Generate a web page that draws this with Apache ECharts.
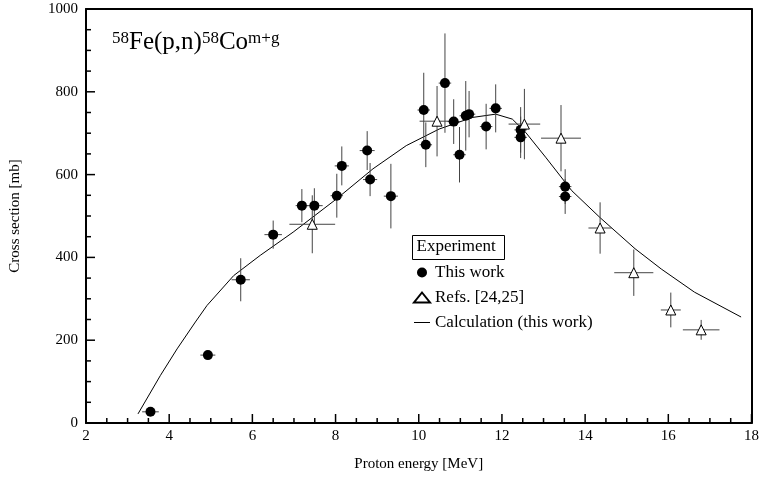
<!DOCTYPE html>
<html>
<head>
<meta charset="utf-8">
<script src="https://cdn.jsdelivr.net/npm/echarts@6/dist/echarts.min.js"></script>
<style>
html,body{margin:0;padding:0;background:#fff;}
#chart{width:762px;height:477px;}
</style>
</head>
<body>
<div id="chart"></div>
<script>
// ---- data ----
// This work: [energy MeV, cross section mb, energy error, cs error]
var thisWork = [
  [3.55, 27, 0.2, 6],
  [4.93, 164, 0.18, 6],
  [5.72, 346, 0.22, 52],
  [6.50, 455, 0.21, 34],
  [7.19, 525, 0.15, 40],
  [7.49, 525, 0.2, 42],
  [8.03, 549, 0.15, 53],
  [8.15, 621, 0.17, 47],
  [8.76, 658, 0.18, 47],
  [8.83, 588, 0.17, 40],
  [9.33, 548, 0.17, 78],
  [10.12, 756, 0.15, 90],
  [10.17, 672, 0.15, 54],
  [10.63, 821, 0.15, 120],
  [10.84, 728, 0.15, 54],
  [10.98, 648, 0.15, 67],
  [11.13, 742, 0.15, 84],
  [11.21, 746, 0.15, 56],
  [11.62, 716, 0.15, 55],
  [11.85, 760, 0.15, 58],
  [12.45, 708, 0.15, 55],
  [12.45, 690, 0.15, 50],
  [13.52, 571, 0.15, 42],
  [13.52, 547, 0.15, 42]
];
// Refs. [24,25]
var refsData = [
  [7.44, 480, 0.55, 70],
  [10.44, 729, 0.42, 85],
  [12.54, 722, 0.38, 85],
  [13.42, 688, 0.48, 80],
  [14.36, 471, 0.28, 62],
  [15.17, 363, 0.47, 56],
  [16.06, 273, 0.24, 42],
  [16.79, 225, 0.44, 24]
];
// Calculation (this work)
var calcData = [
  [3.25, 22], [3.79, 115], [4.19, 179], [4.63, 244], [4.91, 284],
  [5.55, 356], [6.19, 405], [6.98, 461], [8.02, 541], [8.90, 614],
  [9.70, 670], [10.49, 710], [11.29, 738], [11.85, 746], [12.25, 734],
  [12.57, 702], [13.05, 642], [13.68, 561], [14.36, 496], [15.20, 421],
  [15.83, 372], [16.63, 316], [17.75, 256]
];
var xTicks = {min: 2, max: 18, interval: 2, minorStep: 0.5};
var yTicks = {min: 0, max: 1000, interval: 200, minorStep: 50};

var serif = '"Liberation Serif", "DejaVu Serif", serif';

// tick positions (major + minor) along each axis
var xTickVals = [];
for (var xv = xTicks.min; xv <= xTicks.max + 1e-9; xv += xTicks.minorStep) xTickVals.push([xv, yTicks.min]);
var yTickVals = [];
for (var yv = yTicks.min; yv <= yTicks.max + 1e-9; yv += yTicks.minorStep) yTickVals.push([xTicks.min, yv]);

function isMajor(v, t) { var r = (v - t.min) / t.interval; return Math.abs(r - Math.round(r)) < 1e-6; }

function xTickRender(params, api) {
  var v = api.value(0);
  var p = api.coord([v, api.value(1)]);
  var len = isMajor(v, xTicks) ? 9 : 5;
  return {type: 'line', z2: 100, shape: {x1: p[0], y1: p[1], x2: p[0], y2: p[1] - len}, style: {stroke: '#000', lineWidth: 1.5}};
}
function yTickRender(params, api) {
  var v = api.value(1);
  var p = api.coord([api.value(0), v]);
  var len = isMajor(v, yTicks) ? 9 : 5;
  return {type: 'line', z2: 100, shape: {x1: p[0], y1: p[1], x2: p[0] + len, y2: p[1]}, style: {stroke: '#000', lineWidth: 1.5}};
}

function errRender(params, api) {
  var x = api.value(0), y = api.value(1), dx = api.value(2), dy = api.value(3);
  var l = api.coord([x - dx, y]), r = api.coord([x + dx, y]);
  var t = api.coord([x, y + dy]), b = api.coord([x, y - dy]);
  var st = {stroke: '#444', lineWidth: 1};
  return {
    type: 'group',
    children: [
      {type: 'line', shape: {x1: l[0], y1: l[1], x2: r[0], y2: r[1]}, style: st},
      {type: 'line', shape: {x1: t[0], y1: t[1], x2: b[0], y2: b[1]}, style: st}
    ]
  };
}

function mainAxis(pos, name, gap, ticks, labelMargin) {
  return {
    type: 'value', position: pos, min: ticks.min, max: ticks.max, interval: ticks.interval,
    name: name, nameLocation: 'middle', nameGap: gap,
    nameTextStyle: {fontFamily: serif, fontSize: 15, color: '#000'},
    axisLine: {show: true, onZero: false, lineStyle: {color: '#000', width: 2}},
    axisTick: {show: false},
    minorTick: {show: false},
    splitLine: {show: false},
    axisLabel: {show: true, fontFamily: serif, fontSize: 15, color: '#000', margin: labelMargin,
      formatter: function (v) { return String(v); }}
  };
}
function frameAxis(pos, ticks) {
  return {
    type: 'value', position: pos, min: ticks.min, max: ticks.max, interval: ticks.interval,
    axisLine: {show: true, onZero: false, lineStyle: {color: '#000', width: 2}},
    axisTick: {show: false}, minorTick: {show: false},
    axisLabel: {show: false}, splitLine: {show: false}
  };
}

var chart = echarts.init(document.getElementById('chart'));
chart.setOption({
  backgroundColor: '#fff',
  animation: false,
  textStyle: {fontFamily: serif},
  grid: {left: 85, right: 8, top: 9, bottom: 53, show: false},
  title: {
    left: 107, top: 25,
    text: '{s|58}{b|Fe(p,n)}{s|58}{b|Co}{s|m+g}',
    textStyle: {
      fontWeight: 'normal',
      rich: {
        b: {fontFamily: serif, fontSize: 25, fontWeight: 'normal', color: '#000', verticalAlign: 'bottom'},
        s: {fontFamily: serif, fontSize: 17, fontWeight: 'normal', color: '#000', verticalAlign: 'top'}
      }
    }
  },
  graphic: [{
    type: 'group', left: 412, top: 235,
    children: [
      {type: 'rect', shape: {x: 0, y: 0, width: 92, height: 24}, style: {fill: '#fff', stroke: '#000', lineWidth: 1}},
      {type: 'text', x: 4, y: 3, style: {text: 'Experiment', font: '17px ' + serif, fill: '#000'}}
    ]
  }],
  legend: {
    orient: 'vertical', left: 408, top: 259,
    itemWidth: 16, itemHeight: 10, itemGap: 8,
    textStyle: {fontFamily: serif, fontSize: 17, color: '#000'},
    data: [
      {name: 'This work', icon: 'circle'},
      {name: 'Refs. [24,25]', icon: 'triangle'},
      {name: 'Calculation (this work)', icon: 'path://M0,0 L16,0 L16,1 L0,1 Z'}
    ]
  },
  xAxis: [
    mainAxis('bottom', 'Proton energy [MeV]', 34, xTicks, 6),
    frameAxis('top', xTicks)
  ],
  yAxis: [
    mainAxis('left', 'Cross section [mb]', 63, yTicks, 8),
    frameAxis('right', yTicks)
  ],
  series: [
    {
      name: 'xTicks', type: 'custom', renderItem: xTickRender, data: xTickVals,
      encode: {x: 0, y: 1}, z: 10, silent: true, clip: false
    },
    {
      name: 'yTicks', type: 'custom', renderItem: yTickRender, data: yTickVals,
      encode: {x: 0, y: 1}, z: 10, silent: true, clip: false
    },
    {
      name: 'Calculation (this work)', type: 'line', data: calcData,
      showSymbol: false, symbol: 'none', smooth: false,
      lineStyle: {color: '#000', width: 1}, itemStyle: {color: '#000'}, z: 2
    },
    {
      name: 'errThis', type: 'custom', renderItem: errRender, data: thisWork,
      encode: {x: 0, y: 1}, z: 3, silent: true
    },
    {
      name: 'errRefs', type: 'custom', renderItem: errRender, data: refsData,
      encode: {x: 0, y: 1}, z: 3, silent: true
    },
    {
      name: 'This work', type: 'scatter', symbol: 'circle', symbolSize: 10,
      data: thisWork.map(function (d) { return [d[0], d[1]]; }),
      itemStyle: {color: '#000', opacity: 1}, z: 5
    },
    {
      name: 'Refs. [24,25]', type: 'scatter', symbol: 'triangle', symbolSize: 10,
      data: refsData.map(function (d) { return [d[0], d[1]]; }),
      itemStyle: {color: '#fff', borderColor: '#000', borderWidth: 1, opacity: 1}, z: 5
    }
  ]
});
</script>
</body>
</html>
